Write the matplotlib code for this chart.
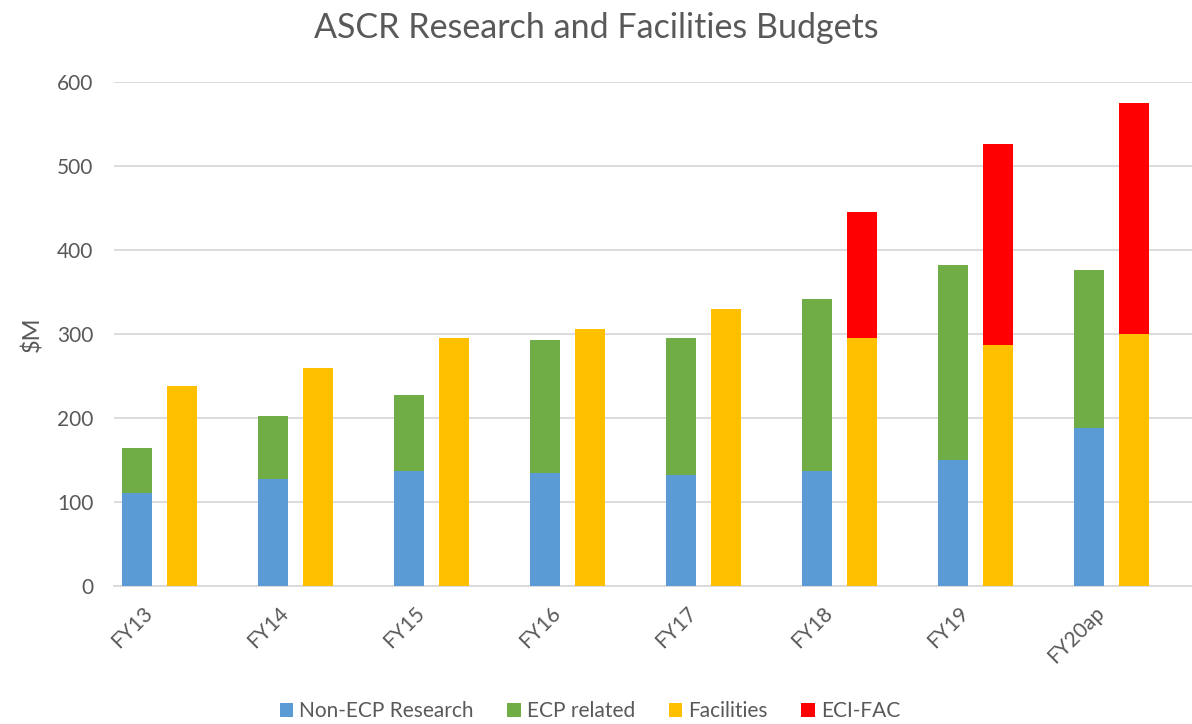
import matplotlib.pyplot as plt
import matplotlib.transforms as mtransforms
import numpy as np

years = ["FY13", "FY14", "FY15", "FY16", "FY17", "FY18", "FY19", "FY20ap"]
non_ecp_research = [111, 128, 137, 135, 132, 137, 150, 188]
ecp_related = [54, 75, 91, 158, 164, 205, 233, 189]
facilities = [239, 260, 295, 306, 330, 295, 287, 300]
eci_fac = [0, 0, 0, 0, 0, 150, 240, 275]

plt.rcParams['font.family'] = ['Lato', 'DejaVu Sans']
text_color = "#595959"
grid_color = "#d9d9d9"

fig = plt.figure(figsize=(11.92, 7.24), dpi=100)
ax = fig.add_axes([114 / 1192, (724 - 586.3) / 724, 1 - 114 / 1192, 504 / 724])

# each year takes three slots: research stack, facilities stack, blank gap
res_x = np.arange(len(years)) * 3
fac_x = res_x + 1
w = 0.66

ax.bar(res_x, non_ecp_research, w, color="#5b9bd5", label="Non-ECP Research", zorder=3)
ax.bar(res_x, ecp_related, w, bottom=non_ecp_research, color="#70ad47", label="ECP related", zorder=3)
ax.bar(fac_x, facilities, w, color="#ffc000", label="Facilities", zorder=3)
ax.bar(fac_x, eci_fac, w, bottom=facilities, color="#ff0000", label="ECI-FAC", zorder=3)

ax.set_xlim(-0.5, -0.5 + (1192 - 114) / 45.33)
ax.set_ylim(0, 600)
ax.set_yticks(range(0, 601, 100))
ax.yaxis.grid(True, color=grid_color, linewidth=1.3, zorder=0)
ax.tick_params(axis="y", length=0, pad=15, labelsize=15, labelcolor=text_color)

ax.set_xticks(res_x)
ax.set_xticklabels(years, rotation=45, ha="right", rotation_mode="anchor")
ax.tick_params(axis="x", length=0, pad=12, labelsize=15, labelcolor=text_color)
shift = mtransforms.ScaledTranslation(6 / 100, 0, fig.dpi_scale_trans)
for lbl in ax.get_xticklabels():
    lbl.set_transform(lbl.get_transform() + shift)

for s in ["top", "right", "left"]:
    ax.spines[s].set_visible(False)
ax.spines["bottom"].set_color(grid_color)
ax.spines["bottom"].set_linewidth(1.3)

ax.set_ylabel("$M", fontsize=17, color=text_color, labelpad=10)
fig.text(0.5, 1 - 28 / 724, "ASCR Research and Facilities Budgets", ha="center", va="center",
         fontsize=24.5, color=text_color)

handles, labels = ax.get_legend_handles_labels()
fig.legend(handles, labels, loc="center", bbox_to_anchor=(0.495, 1 - 711 / 724), ncol=4,
           frameon=False, fontsize=15, labelcolor=text_color, handlelength=0.65,
           handleheight=0.65, handletextpad=0.3, columnspacing=1.6)

fig.savefig("out.png", dpi=100)
